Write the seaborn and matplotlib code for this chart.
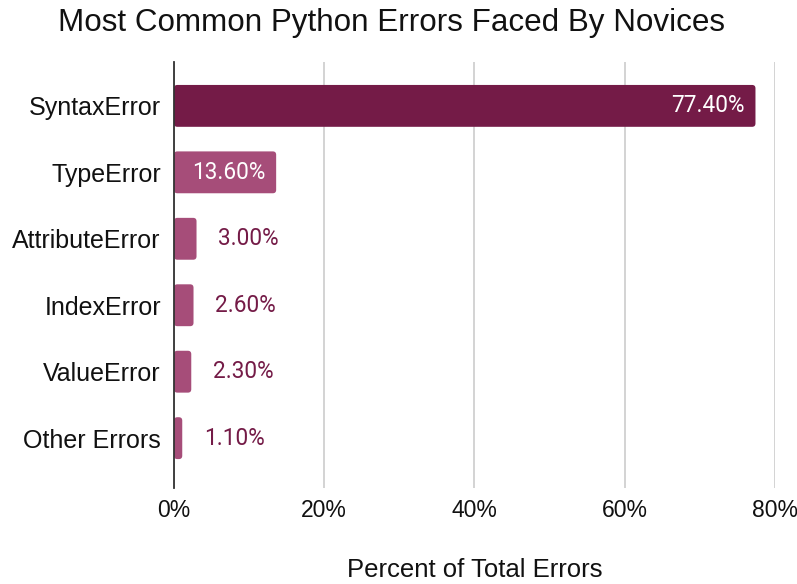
import matplotlib
matplotlib.use('Agg')
import matplotlib.pyplot as plt
import seaborn as sns
import pandas as pd
from matplotlib.patches import FancyBboxPatch
from matplotlib.ticker import FuncFormatter

error_types = ['SyntaxError', 'TypeError', 'AttributeError', 'IndexError',
               'ValueError', 'Other Errors']
percents = [77.4, 13.6, 3.0, 2.6, 2.3, 1.1]
x_ticks = [0, 20, 40, 60, 80]

DARK = '#741b47'
LIGHT = '#a64d79'

df = pd.DataFrame({'error': error_types, 'pct': percents})
colors = [DARK] + [LIGHT] * (len(error_types) - 1)

sns.set_style('white')
plt.rcParams['font.family'] = ['Liberation Sans', 'DejaVu Sans']

fig = plt.figure(figsize=(7.97, 5.84), dpi=100)
ax = fig.add_axes([0.2183, 0.1644, 0.9724 - 0.2183, 0.8938 - 0.1644])

sns.barplot(data=df, x='pct', y='error', hue='error', palette=colors,
            legend=False, width=0.63, ax=ax, saturation=1)

# swap plain rectangles for slightly rounded ones
for p in list(ax.patches):
    x0, y0 = p.get_x(), p.get_y()
    w, h = p.get_width(), p.get_height()
    fc = p.get_facecolor()
    p.remove()
    ax.add_patch(FancyBboxPatch((x0, y0), w, h,
                                boxstyle='round,pad=0,rounding_size=0.45',
                                mutation_aspect=0.113, facecolor=fc,
                                edgecolor='none', zorder=2))

ax.set_xlim(0, 80)
ax.set_ylim(5.75, -0.66)
ax.set_xticks(x_ticks)
ax.xaxis.set_major_formatter(FuncFormatter(lambda v, _: f'{v:.0f}%'))
ax.grid(axis='x', color='#cccccc', linewidth=1.2, zorder=0)
ax.set_axisbelow(True)
for s in ['top', 'right', 'bottom']:
    ax.spines[s].set_visible(False)
ax.spines['left'].set_color('#333333')
ax.spines['left'].set_linewidth(1.3)
ax.spines['left'].set_zorder(5)
ax.tick_params(axis='both', length=0, colors='#111111')
ax.tick_params(axis='y', pad=9.4, labelsize=18)
ax.tick_params(axis='x', pad=8, labelsize=16.5)

for i, v in enumerate(percents):
    label = f'{v:.2f}%'
    if v > 10:
        ax.text(v - 1.4, i, label, ha='right', va='center', color='white',
                fontsize=16.3, family='Roboto')
    else:
        ax.text(v + 2.9, i, label, ha='left', va='center', color=DARK,
                fontsize=16.3, family='Roboto')

ax.set_ylabel('')
ax.set_xlabel('Percent of Total Errors', fontsize=18.5, labelpad=26,
              color='#111111')
fig.suptitle('Most Common Python Errors Faced By Novices', fontsize=22.6,
             x=0.491, y=0.986, color='#111111')

fig.savefig('out.png', dpi=100)
